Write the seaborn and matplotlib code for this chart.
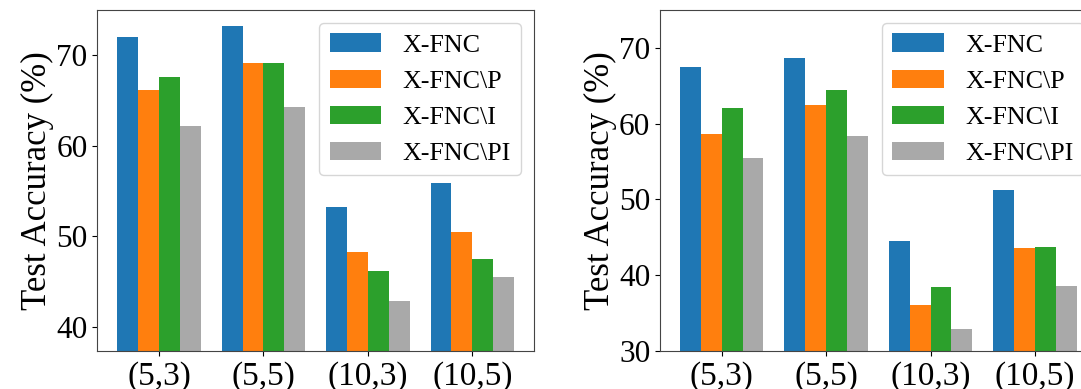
import matplotlib
matplotlib.use("Agg")
import matplotlib.pyplot as plt
import seaborn as sns
import pandas as pd

settings = ["(5,3)", "(5,5)", "(10,3)", "(10,5)"]
models = ["X-FNC", "X-FNC\\P", "X-FNC\\I", "X-FNC\\PI"]
colors = ["#1f77b4", "#ff7f0e", "#2ca02c", "#a9a9a9"]

# left panel
left_acc = {
    "X-FNC": [72.0, 73.2, 53.2, 55.9],
    "X-FNC\\P": [66.2, 69.1, 48.3, 50.5],
    "X-FNC\\I": [67.6, 69.1, 46.1, 47.5],
    "X-FNC\\PI": [62.2, 64.3, 42.8, 45.5],
}
# right panel
right_acc = {
    "X-FNC": [67.5, 68.7, 44.5, 51.2],
    "X-FNC\\P": [58.6, 62.4, 36.1, 43.6],
    "X-FNC\\I": [62.1, 64.4, 38.5, 43.7],
    "X-FNC\\PI": [55.5, 58.4, 32.9, 38.6],
}


def to_long(acc):
    rows = []
    for m in models:
        for s, v in zip(settings, acc[m]):
            rows.append({"setting": s, "model": m, "acc": v})
    return pd.DataFrame(rows)


plt.rcParams["font.family"] = ["Liberation Serif", "DejaVu Serif"]

fig = plt.figure(figsize=(10.81, 3.89), dpi=100)
W, H = 1081, 389
ax_w, ax_h = 436.7 / W, 341 / H
bottom = (H - 351) / H
ax1 = fig.add_axes([97.3 / W, bottom, ax_w, ax_h])
ax2 = fig.add_axes([660 / W, bottom, ax_w, ax_h])

for ax, acc, ylim in [(ax1, left_acc, (37.3, 75)), (ax2, right_acc, (30, 75))]:
    df = to_long(acc)
    sns.barplot(
        data=df, x="setting", y="acc", hue="model", order=settings,
        hue_order=models, palette=colors, width=0.8, gap=0,
        saturation=1, linewidth=0, ax=ax,
    )
    ax.set_xlim(-0.59, 3.59)
    ax.set_ylim(*ylim)
    ax.set_xlabel("")
    ax.set_ylabel("Test Accuracy (%)", fontsize=25, labelpad=1.5)
    ax.tick_params(axis="x", labelsize=24)
    ax.tick_params(axis="y", labelsize=22.5)
    for sp in ax.spines.values():
        sp.set_color("#444444")
    ax.legend(loc="upper right", fontsize=18.7)

fig.savefig("out.png", dpi=100)
